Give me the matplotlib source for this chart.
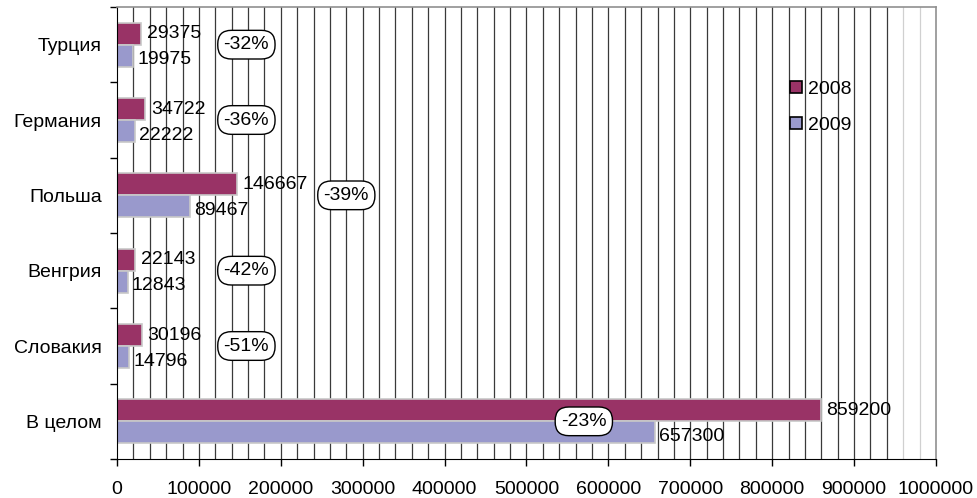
import matplotlib
matplotlib.use("Agg")
import matplotlib.pyplot as plt
import numpy as np

plt.rcParams['font.family'] = ['Liberation Sans', 'DejaVu Sans']

countries = ["Турция", "Германия", "Польша", "Венгрия", "Словакия", "В целом"]
sales_2008 = [29375, 34722, 146667, 22143, 30196, 859200]
sales_2009 = [19975, 22222, 89467, 12843, 14796, 657300]
change_labels = ["-32%", "-36%", "-39%", "-42%", "-51%", "-23%"]
change_label_x = [158000, 158000, 280000, 158000, 158000, 570000]
years = ["2008", "2009"]
x_ticks = list(range(0, 1000001, 100000))

c2008 = "#993366"
c2009 = "#9999CC"

fig = plt.figure(figsize=(9.78, 4.98), dpi=100)
ax = fig.add_axes([117/978, 39/498, 819/978, 452/498])

n = len(countries)
pos = np.arange(n)[::-1]  # first category at top
h = 0.29

ax.set_xlim(0, 1000000)
ax.set_ylim(-0.5, n - 0.5)

# minor vertical gridlines every 20000
for gx in range(20000, 1000000, 20000):
    col = "#d0d0d0" if gx >= 960000 else "#3a3a3a"
    ax.axvline(gx, color=col, lw=0.9, zorder=0)

ax.barh(pos + h/2, sales_2008, height=h, color=c2008, edgecolor="#c8c8c8",
        linewidth=1.2, zorder=2, label=years[0])
ax.barh(pos - h/2, sales_2009, height=h, color=c2009, edgecolor="#c8c8c8",
        linewidth=1.2, zorder=2, label=years[1])

fs = 14
for p, v in zip(pos, sales_2008):
    ax.annotate(str(v), (v, p + h/2), xytext=(4, 0), textcoords="offset points",
                ha="left", va="center", fontsize=fs, zorder=4)
for p, v in zip(pos, sales_2009):
    ax.annotate(str(v), (v, p - h/2), xytext=(3, -3), textcoords="offset points",
                ha="left", va="center", fontsize=fs, zorder=4)

for p, t, lx in zip(pos, change_labels, change_label_x):
    ax.text(lx, p, t, ha="center", va="center", fontsize=fs, zorder=5,
            bbox=dict(boxstyle="round,pad=0.3,rounding_size=0.7", fc="white",
                      ec="black", lw=1.0))

# axes frame
for s in ["top", "right"]:
    ax.spines[s].set_color("#909090")
    ax.spines[s].set_linewidth(1.2)
ax.spines["bottom"].set_color("black")
ax.spines["left"].set_color("black")

ax.set_xticks(x_ticks)
ax.set_xticklabels([str(t) for t in x_ticks], fontsize=fs)
ax.tick_params(axis="x", length=5, width=1, pad=11, direction="out")

ax.set_yticks(pos)
ax.set_yticklabels(countries, fontsize=fs)
ax.tick_params(axis="y", length=0, pad=11)
ax.set_yticks(np.arange(-0.5, n, 1.0), minor=True)
ax.tick_params(axis="y", which="minor", length=5, width=1, direction="out")

ax.legend(loc="center left", bbox_to_anchor=(0.822, 0.778), frameon=False,
          fontsize=fs, handlelength=0.6, handleheight=0.6, handletextpad=0.3,
          labelspacing=0.95, borderpad=0, borderaxespad=0)
leg = ax.get_legend()
for patch in leg.get_patches():
    patch.set_edgecolor("black")
    patch.set_linewidth(1.2)

fig.savefig("out.png", dpi=100, facecolor="white")
